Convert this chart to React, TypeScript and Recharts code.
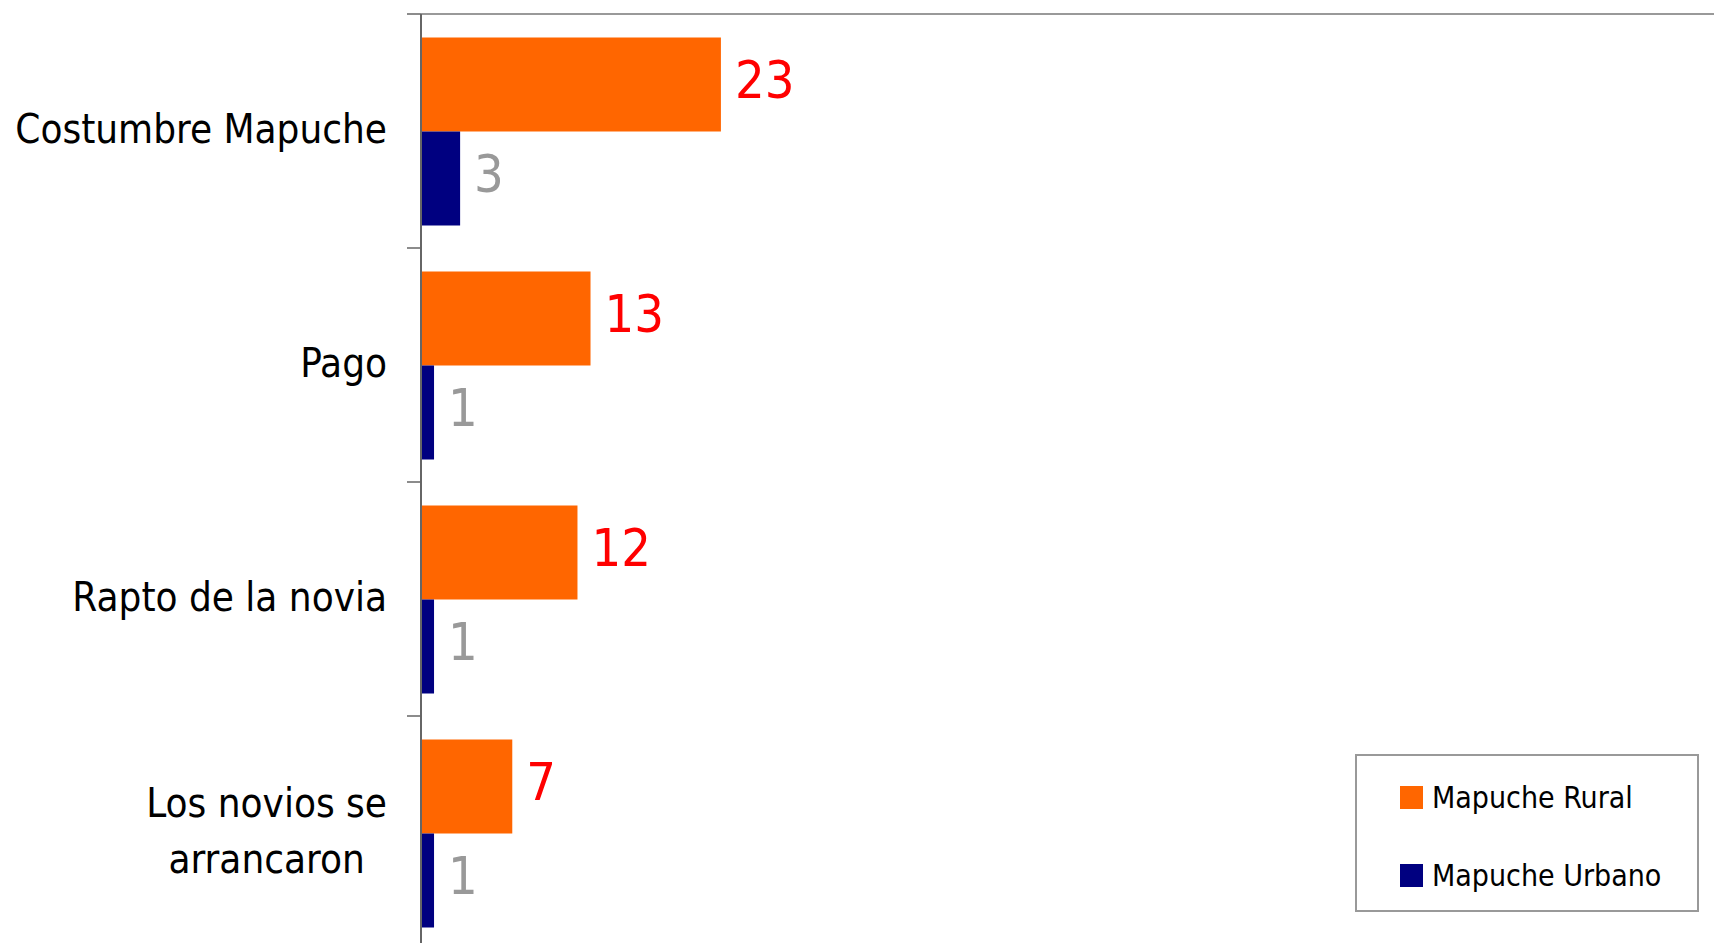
import { Bar, BarChart, Legend, LabelList, XAxis, YAxis } from 'recharts'

const FONT = '"DejaVu Sans Condensed", "DejaVu Sans", sans-serif'
const RURAL_COLOR = '#ff6600'
const URBANO_COLOR = '#000080'
const AXIS_COLOR = '#666666'
const FRAME_COLOR = '#999999'

const categories = ['Costumbre Mapuche', 'Pago', 'Rapto de la novia', 'Los novios se\narrancaron']
const rural = [23, 13, 12, 7]
const urbano = [3, 1, 1, 1]
const xDomain = [0, 100]

const data = categories.map((name, i) => ({ name, rural: rural[i], urbano: urbano[i] }))

// chart box: plot starts at x=421, y=14 and runs past the window edge on purpose
const CHART_W = 1730
const CHART_H = 960
const MARGIN = { top: 13, right: 5, bottom: 10, left: 0 }
const PLOT_H = CHART_H - MARGIN.top - 1 - MARGIN.bottom
const BAND = PLOT_H / categories.length

function CategoryTick(props: any) {
  const { x, y, payload } = props
  const top = y - BAND / 2
  return (
    <g>
      <line x1={x + 20} x2={x + 34} y1={top} y2={top} stroke={AXIS_COLOR} strokeWidth={1.5} />
      <foreignObject x={0} y={top} width={x} height={BAND}>
        <div
          style={{
            display: 'flex',
            height: '100%',
            alignItems: 'center',
            justifyContent: 'flex-end',
          }}
        >
          <span
            style={{
              textAlign: 'center',
              whiteSpace: 'pre-line',
              lineHeight: '56px',
              fontSize: 40,
              fontFamily: FONT,
              color: '#000',
              marginBottom: 5,
            }}
          >
            {payload.value}
          </span>
        </div>
      </foreignObject>
    </g>
  )
}

function LegendBox({ payload }: any) {
  return (
    <div
      style={{
        boxSizing: 'border-box',
        width: 344,
        height: 158,
        border: `2px solid ${FRAME_COLOR}`,
        background: '#fff',
        paddingLeft: 43,
        paddingTop: 20,
      }}
    >
      {(payload || []).map((entry: any) => (
        <div
          key={entry.value}
          style={{ display: 'flex', alignItems: 'center', height: 78, marginTop: -18, marginBottom: 18 }}
        >
          <span style={{ width: 23, height: 23, background: entry.color, marginRight: 9 }} />
          <span style={{ fontSize: 30, fontFamily: FONT, color: '#000' }}>{entry.value}</span>
        </div>
      ))}
    </div>
  )
}

export default function App() {
  return (
    <div style={{ position: 'fixed', inset: 0, overflow: 'hidden', background: '#fff' }}>
      <BarChart
        width={CHART_W}
        height={CHART_H}
        data={data}
        layout="vertical"
        margin={MARGIN}
        barCategoryGap="10%"
        barGap={0}
      >
        <XAxis
          type="number"
          orientation="top"
          domain={xDomain}
          height={1}
          tick={false}
          tickLine={false}
          axisLine={{ stroke: FRAME_COLOR, strokeWidth: 2 }}
        />
        <YAxis
          type="category"
          dataKey="name"
          width={421}
          tickSize={14}
          tickMargin={20}
          tickLine={false}
          axisLine={{ stroke: AXIS_COLOR, strokeWidth: 2 }}
          tick={<CategoryTick />}
          interval={0}
        />
        <Legend
          layout="vertical"
          align="center"
          verticalAlign="middle"
          content={<LegendBox />}
          wrapperStyle={{ left: 1355, top: 754, width: 344, height: 158 }}
        />
        <Bar dataKey="rural" name="Mapuche Rural" fill={RURAL_COLOR} isAnimationActive={false}>
          <LabelList
            dataKey="rural"
            position="right"
            offset={14}
            dy={-5}
            fill="#ff0000"
            fontSize={52}
            fontFamily={FONT}
          />
        </Bar>
        <Bar dataKey="urbano" name="Mapuche Urbano" fill={URBANO_COLOR} isAnimationActive={false}>
          <LabelList
            dataKey="urbano"
            position="right"
            offset={14}
            dy={-5}
            fill="#999999"
            fontSize={52}
            fontFamily={FONT}
          />
        </Bar>
      </BarChart>
    </div>
  )
}
